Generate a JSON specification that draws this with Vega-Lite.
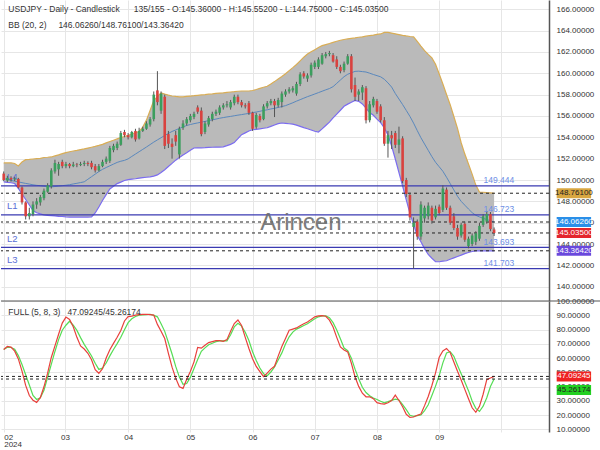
{
"$schema": "https://vega.github.io/schema/vega-lite/v6.json",
"padding": 0,
"spacing": 0,
"bounds": "flush",
"background": "white",
"config": {
  "view": {"stroke": null},
  "font": "Liberation Sans",
  "axis": {"labelFont": "Liberation Sans", "labelColor": "#333", "labelFontSize": 8, "gridColor": "#e6e6e6", "gridWidth": 1, "ticks": false, "title": null, "labelOverlap": false}
},
"datasets": {
  "bars": [
{"i":0,"o":150.6,"h":150.8,"l":149.9,"c":150.0,"u":151.6,"m":150.13,"b":149.82,"k":66.0,"d":66.0},
{"i":1,"o":149.95,"h":150.4,"l":149.8,"c":150.2,"u":151.6,"m":150.05,"b":149.77,"k":68.1,"d":67.5},
{"i":2,"o":150.2,"h":150.35,"l":149.85,"c":150.05,"u":151.6,"m":149.96,"b":149.74,"k":67.7,"d":67.4},
{"i":3,"o":150.05,"h":150.3,"l":149.9,"c":150.15,"u":151.55,"m":149.89,"b":149.67,"k":64.8,"d":66.1},
{"i":4,"o":150.1,"h":150.2,"l":149.2,"c":149.3,"u":151.31,"m":149.82,"b":149.22,"k":59.4,"d":61.7},
{"i":5,"o":149.3,"h":149.4,"l":147.7,"c":147.9,"u":151.69,"m":149.75,"b":148.69,"k":50.8,"d":55.4},
{"i":6,"o":147.9,"h":148.0,"l":146.3,"c":146.6,"u":151.91,"m":149.68,"b":148.17,"k":40.8,"d":48.3},
{"i":7,"o":146.6,"h":147.4,"l":146.3,"c":146.9,"u":151.93,"m":149.62,"b":147.66,"k":33.7,"d":41.1},
{"i":8,"o":146.8,"h":148.0,"l":146.6,"c":147.7,"u":151.97,"m":149.55,"b":147.13,"k":30.4,"d":33.8},
{"i":9,"o":147.7,"h":148.3,"l":147.3,"c":148.0,"u":152.0,"m":149.5,"b":146.93,"k":28.9,"d":30.9},
{"i":10,"o":147.9,"h":148.6,"l":147.6,"c":148.4,"u":152.03,"m":149.47,"b":146.83,"k":32.2,"d":32.1},
{"i":11,"o":148.3,"h":149.2,"l":148.1,"c":149.0,"u":152.11,"m":149.42,"b":146.72,"k":39.8,"d":37.3},
{"i":12,"o":148.9,"h":149.7,"l":148.8,"c":149.5,"u":152.13,"m":149.38,"b":146.69,"k":49.4,"d":46.5},
{"i":13,"o":149.4,"h":151.1,"l":149.2,"c":150.9,"u":152.16,"m":149.35,"b":146.67,"k":60.4,"d":55.5},
{"i":14,"o":150.8,"h":151.9,"l":150.6,"c":151.6,"u":152.26,"m":149.39,"b":146.63,"k":68.5,"d":64.6},
{"i":15,"o":151.0,"h":151.7,"l":150.4,"c":151.5,"u":152.36,"m":149.43,"b":146.6,"k":76.7,"d":72.9},
{"i":16,"o":151.7,"h":151.9,"l":151.1,"c":151.3,"u":152.47,"m":149.47,"b":146.58,"k":84.5,"d":79.5},
{"i":17,"o":151.3,"h":151.7,"l":151.1,"c":151.5,"u":152.57,"m":149.51,"b":146.55,"k":88.7,"d":83.0},
{"i":18,"o":151.5,"h":151.6,"l":151.1,"c":151.3,"u":152.65,"m":149.56,"b":146.53,"k":87.1,"d":85.8},
{"i":19,"o":151.3,"h":151.7,"l":151.2,"c":151.45,"u":152.72,"m":149.63,"b":146.53,"k":81.9,"d":83.0},
{"i":20,"o":151.45,"h":151.6,"l":151.2,"c":151.4,"u":152.78,"m":149.69,"b":146.53,"k":74.5,"d":79.4},
{"i":21,"o":151.4,"h":151.7,"l":151.3,"c":151.5,"u":152.85,"m":149.76,"b":146.53,"k":68.5,"d":74.3},
{"i":22,"o":151.5,"h":151.8,"l":151.3,"c":151.6,"u":152.91,"m":149.83,"b":146.53,"k":66.3,"d":69.6},
{"i":23,"o":151.6,"h":151.75,"l":151.3,"c":151.5,"u":152.99,"m":150.07,"b":146.53,"k":63.3,"d":65.5},
{"i":24,"o":151.6,"h":151.8,"l":151.0,"c":151.2,"u":153.07,"m":150.31,"b":146.54,"k":58.8,"d":61.4},
{"i":25,"o":151.3,"h":151.5,"l":150.7,"c":150.9,"u":153.15,"m":150.55,"b":146.91,"k":51.8,"d":56.3},
{"i":26,"o":150.9,"h":151.5,"l":150.8,"c":151.3,"u":153.24,"m":150.79,"b":147.47,"k":49.3,"d":52.0},
{"i":27,"o":151.3,"h":151.9,"l":151.2,"c":151.7,"u":153.34,"m":151.0,"b":148.08,"k":52.5,"d":53.0},
{"i":28,"o":151.7,"h":152.2,"l":151.5,"c":152.0,"u":153.48,"m":151.17,"b":148.63,"k":60.0,"d":56.5},
{"i":29,"o":151.8,"h":153.2,"l":151.6,"c":153.0,"u":153.61,"m":151.33,"b":149.16,"k":65.8,"d":61.5},
{"i":30,"o":152.8,"h":153.4,"l":152.6,"c":153.2,"u":153.73,"m":151.49,"b":149.41,"k":70.3,"d":66.0},
{"i":31,"o":153.0,"h":153.6,"l":152.8,"c":153.4,"u":153.85,"m":151.65,"b":149.66,"k":74.6,"d":70.1},
{"i":32,"o":153.3,"h":154.6,"l":153.2,"c":154.4,"u":153.97,"m":151.76,"b":149.8,"k":79.3,"d":74.6},
{"i":33,"o":154.5,"h":154.7,"l":154.0,"c":154.2,"u":154.08,"m":151.84,"b":149.95,"k":86.0,"d":79.8},
{"i":34,"o":154.2,"h":154.4,"l":153.8,"c":154.0,"u":154.19,"m":151.98,"b":150.03,"k":89.0,"d":84.8},
{"i":35,"o":154.0,"h":154.6,"l":153.9,"c":154.5,"u":154.31,"m":152.21,"b":150.08,"k":89.4,"d":87.5},
{"i":36,"o":154.6,"h":154.8,"l":153.6,"c":153.8,"u":154.42,"m":152.43,"b":150.12,"k":90.1,"d":89.1},
{"i":37,"o":153.9,"h":154.9,"l":153.8,"c":154.6,"u":154.55,"m":152.65,"b":150.17,"k":90.5,"d":90.1},
{"i":38,"o":154.6,"h":155.0,"l":154.5,"c":154.8,"u":154.96,"m":152.87,"b":150.22,"k":90.6,"d":90.3},
{"i":39,"o":154.8,"h":155.5,"l":154.7,"c":155.3,"u":155.61,"m":153.09,"b":150.26,"k":90.7,"d":90.5},
{"i":40,"o":155.2,"h":155.9,"l":155.0,"c":155.7,"u":156.52,"m":153.32,"b":150.3,"k":90.4,"d":90.7},
{"i":41,"o":155.7,"h":158.3,"l":155.5,"c":158.0,"u":157.44,"m":153.55,"b":150.36,"k":90.1,"d":89.9},
{"i":42,"o":158.4,"h":160.2,"l":157.0,"c":157.3,"u":157.82,"m":153.76,"b":150.48,"k":83.6,"d":88.9},
{"i":43,"o":156.5,"h":158.3,"l":156.2,"c":158.1,"u":158.16,"m":153.96,"b":150.7,"k":78.8,"d":84.0},
{"i":44,"o":157.8,"h":158.0,"l":152.9,"c":153.2,"u":158.05,"m":154.17,"b":150.96,"k":73.7,"d":78.7},
{"i":45,"o":154.3,"h":154.6,"l":153.0,"c":153.4,"u":157.95,"m":154.36,"b":151.26,"k":63.3,"d":70.9},
{"i":46,"o":153.4,"h":153.9,"l":152.0,"c":153.1,"u":157.87,"m":154.55,"b":151.56,"k":53.6,"d":62.8},
{"i":47,"o":154.2,"h":154.6,"l":153.2,"c":153.6,"u":157.83,"m":154.69,"b":151.86,"k":45.9,"d":54.1},
{"i":48,"o":152.4,"h":155.0,"l":152.0,"c":154.8,"u":157.8,"m":154.83,"b":152.12,"k":39.8,"d":46.6},
{"i":49,"o":154.9,"h":155.6,"l":154.7,"c":155.3,"u":157.8,"m":154.97,"b":152.35,"k":38.7,"d":41.6},
{"i":50,"o":155.3,"h":155.9,"l":155.1,"c":155.7,"u":157.84,"m":155.11,"b":152.55,"k":45.1,"d":42.1},
{"i":51,"o":155.6,"h":156.2,"l":155.4,"c":156.0,"u":157.87,"m":155.2,"b":152.78,"k":50.6,"d":46.4},
{"i":52,"o":155.9,"h":156.4,"l":155.7,"c":156.2,"u":157.9,"m":155.28,"b":153.0,"k":57.3,"d":52.7},
{"i":53,"o":156.8,"h":157.0,"l":156.2,"c":156.4,"u":157.94,"m":155.35,"b":153.01,"k":67.4,"d":59.0},
{"i":54,"o":156.5,"h":156.8,"l":154.1,"c":154.3,"u":157.97,"m":155.42,"b":153.02,"k":66.9,"d":64.7},
{"i":55,"o":154.5,"h":155.5,"l":154.3,"c":155.3,"u":158.0,"m":155.49,"b":153.03,"k":69.0,"d":67.1},
{"i":56,"o":155.2,"h":156.0,"l":155.0,"c":155.8,"u":158.04,"m":155.57,"b":153.05,"k":70.8,"d":69.3},
{"i":57,"o":155.7,"h":156.4,"l":155.5,"c":156.2,"u":158.07,"m":155.64,"b":153.07,"k":71.5,"d":70.4},
{"i":58,"o":156.2,"h":156.6,"l":156.0,"c":156.4,"u":158.11,"m":155.71,"b":153.08,"k":72.2,"d":71.5},
{"i":59,"o":156.3,"h":157.0,"l":156.1,"c":156.8,"u":158.15,"m":155.79,"b":153.09,"k":72.2,"d":72.0},
{"i":60,"o":156.8,"h":157.2,"l":156.6,"c":157.0,"u":158.17,"m":155.85,"b":153.11,"k":71.7,"d":72.0},
{"i":61,"o":157.0,"h":157.4,"l":156.8,"c":157.1,"u":158.21,"m":155.91,"b":153.22,"k":72.9,"d":72.0},
{"i":62,"o":156.8,"h":157.5,"l":156.6,"c":157.3,"u":158.25,"m":155.96,"b":153.34,"k":78.8,"d":76.3},
{"i":63,"o":157.2,"h":158.0,"l":157.0,"c":157.8,"u":158.28,"m":156.02,"b":153.51,"k":84.2,"d":81.8},
{"i":64,"o":157.8,"h":158.0,"l":157.1,"c":157.3,"u":158.32,"m":156.08,"b":153.87,"k":86.7,"d":84.3},
{"i":65,"o":157.3,"h":157.5,"l":156.8,"c":157.0,"u":158.34,"m":156.13,"b":154.25,"k":82.8,"d":82.4},
{"i":66,"o":157.0,"h":157.2,"l":156.7,"c":156.9,"u":158.34,"m":156.19,"b":154.42,"k":74.5,"d":78.1},
{"i":67,"o":157.2,"h":157.4,"l":156.1,"c":156.3,"u":158.34,"m":156.24,"b":154.59,"k":66.7,"d":72.3},
{"i":68,"o":156.3,"h":156.4,"l":154.6,"c":154.8,"u":158.39,"m":156.31,"b":154.71,"k":59.5,"d":64.4},
{"i":69,"o":155.0,"h":156.3,"l":154.8,"c":156.1,"u":158.48,"m":156.37,"b":154.75,"k":54.1,"d":58.2},
{"i":70,"o":156.0,"h":156.2,"l":155.4,"c":155.6,"u":158.59,"m":156.44,"b":154.8,"k":50.4,"d":53.0},
{"i":71,"o":155.7,"h":157.1,"l":155.6,"c":156.9,"u":158.69,"m":156.52,"b":154.85,"k":47.0,"d":49.0},
{"i":72,"o":156.9,"h":157.4,"l":156.7,"c":157.2,"u":158.79,"m":156.58,"b":154.9,"k":49.4,"d":47.6},
{"i":73,"o":157.2,"h":157.6,"l":157.0,"c":157.4,"u":159.0,"m":156.66,"b":155.03,"k":52.2,"d":50.2},
{"i":74,"o":157.4,"h":157.6,"l":155.9,"c":157.0,"u":159.22,"m":156.72,"b":155.16,"k":54.2,"d":53.8},
{"i":75,"o":157.0,"h":157.7,"l":156.8,"c":157.5,"u":159.47,"m":156.8,"b":155.28,"k":61.3,"d":58.6},
{"i":76,"o":157.3,"h":158.3,"l":156.8,"c":158.1,"u":159.7,"m":156.88,"b":155.34,"k":68.1,"d":63.6},
{"i":77,"o":158.0,"h":158.5,"l":157.8,"c":158.3,"u":159.96,"m":156.97,"b":155.31,"k":73.7,"d":69.9},
{"i":78,"o":158.3,"h":158.7,"l":158.1,"c":158.5,"u":160.25,"m":157.1,"b":155.27,"k":79.5,"d":74.9},
{"i":79,"o":158.4,"h":158.8,"l":158.2,"c":158.6,"u":160.53,"m":157.24,"b":155.23,"k":80.3,"d":78.2},
{"i":80,"o":158.1,"h":159.2,"l":157.9,"c":159.0,"u":160.83,"m":157.39,"b":155.14,"k":81.1,"d":80.3},
{"i":81,"o":159.0,"h":160.1,"l":158.8,"c":159.9,"u":161.17,"m":157.53,"b":155.03,"k":82.6,"d":81.5},
{"i":82,"o":160.0,"h":160.2,"l":159.5,"c":159.7,"u":161.51,"m":157.67,"b":154.91,"k":84.0,"d":82.8},
{"i":83,"o":159.5,"h":160.0,"l":159.2,"c":159.8,"u":161.8,"m":157.81,"b":154.8,"k":85.2,"d":84.1},
{"i":84,"o":159.8,"h":161.0,"l":159.6,"c":160.8,"u":162.01,"m":157.93,"b":154.69,"k":87.1,"d":85.8},
{"i":85,"o":160.6,"h":161.2,"l":160.4,"c":161.0,"u":162.21,"m":158.06,"b":154.57,"k":88.9,"d":87.5},
{"i":86,"o":160.6,"h":161.5,"l":160.4,"c":161.3,"u":162.42,"m":158.19,"b":154.5,"k":89.6,"d":88.9},
{"i":87,"o":160.9,"h":161.9,"l":160.8,"c":161.7,"u":162.59,"m":158.32,"b":154.79,"k":89.8,"d":89.6},
{"i":88,"o":161.6,"h":162.0,"l":161.4,"c":161.8,"u":162.69,"m":158.45,"b":155.11,"k":89.3,"d":89.5},
{"i":89,"o":161.8,"h":162.1,"l":161.6,"c":161.9,"u":162.79,"m":158.57,"b":155.43,"k":86.6,"d":88.3},
{"i":90,"o":161.7,"h":161.9,"l":161.0,"c":161.1,"u":162.9,"m":158.75,"b":155.82,"k":81.7,"d":84.8},
{"i":91,"o":161.3,"h":161.6,"l":160.4,"c":160.6,"u":163.0,"m":159.06,"b":156.18,"k":74.5,"d":79.6},
{"i":92,"o":160.6,"h":160.8,"l":160.0,"c":160.2,"u":163.1,"m":159.37,"b":156.54,"k":67.8,"d":73.5},
{"i":93,"o":160.3,"h":161.1,"l":160.1,"c":160.9,"u":163.17,"m":159.68,"b":156.91,"k":65.6,"d":67.0},
{"i":94,"o":160.9,"h":161.8,"l":160.8,"c":161.6,"u":163.22,"m":159.91,"b":157.11,"k":64.3,"d":65.1},
{"i":95,"o":161.6,"h":161.8,"l":158.2,"c":158.5,"u":163.27,"m":160.05,"b":157.28,"k":56.3,"d":59.9},
{"i":96,"o":158.9,"h":159.6,"l":157.4,"c":157.8,"u":163.32,"m":160.18,"b":157.46,"k":46.8,"d":52.2},
{"i":97,"o":158.0,"h":158.5,"l":157.4,"c":158.3,"u":163.38,"m":160.2,"b":157.37,"k":40.1,"d":45.4},
{"i":98,"o":158.2,"h":158.9,"l":157.5,"c":158.7,"u":163.42,"m":160.16,"b":157.13,"k":35.3,"d":39.5},
{"i":99,"o":158.6,"h":158.8,"l":155.3,"c":155.6,"u":163.48,"m":160.12,"b":156.74,"k":32.8,"d":35.8},
{"i":100,"o":155.6,"h":157.4,"l":155.4,"c":157.1,"u":163.54,"m":160.01,"b":156.32,"k":32.8,"d":33.5},
{"i":101,"o":157.0,"h":157.8,"l":156.8,"c":157.6,"u":163.58,"m":159.89,"b":156.07,"k":31.5,"d":32.0},
{"i":102,"o":157.4,"h":157.6,"l":156.2,"c":156.4,"u":163.64,"m":159.78,"b":155.71,"k":28.7,"d":30.9},
{"i":103,"o":156.9,"h":157.1,"l":155.4,"c":155.6,"u":163.69,"m":159.67,"b":155.38,"k":28.0,"d":29.7},
{"i":104,"o":155.6,"h":155.9,"l":153.2,"c":153.4,"u":163.83,"m":159.44,"b":154.88,"k":27.7,"d":28.6},
{"i":105,"o":153.4,"h":154.6,"l":152.1,"c":154.2,"u":163.84,"m":159.1,"b":154.22,"k":28.6,"d":29.4},
{"i":106,"o":154.2,"h":154.6,"l":152.9,"c":153.9,"u":163.77,"m":158.71,"b":153.19,"k":30.1,"d":30.3},
{"i":107,"o":154.4,"h":154.6,"l":153.0,"c":153.3,"u":163.7,"m":158.11,"b":151.97,"k":34.0,"d":31.1},
{"i":108,"o":153.3,"h":155.0,"l":152.5,"c":153.8,"u":163.63,"m":157.59,"b":150.7,"k":30.2,"d":30.6},
{"i":109,"o":153.9,"h":154.1,"l":149.7,"c":149.9,"u":163.56,"m":157.07,"b":149.44,"k":25.8,"d":27.3},
{"i":110,"o":150.0,"h":150.2,"l":148.4,"c":148.7,"u":163.5,"m":156.52,"b":148.14,"k":20.5,"d":23.8},
{"i":111,"o":148.6,"h":148.8,"l":146.2,"c":146.5,"u":163.45,"m":155.96,"b":146.88,"k":18.3,"d":19.8},
{"i":112,"o":145.6,"h":146.5,"l":141.7,"c":146.0,"u":163.41,"m":155.33,"b":145.83,"k":18.6,"d":19.1},
{"i":113,"o":146.1,"h":146.3,"l":144.4,"c":144.7,"u":162.99,"m":154.63,"b":144.8,"k":19.8,"d":19.6},
{"i":114,"o":144.7,"h":148.0,"l":144.4,"c":147.7,"u":162.55,"m":153.96,"b":144.22,"k":20.7,"d":20.0},
{"i":115,"o":146.4,"h":147.6,"l":146.0,"c":147.4,"u":162.13,"m":153.37,"b":143.57,"k":26.6,"d":23.1},
{"i":116,"o":146.6,"h":147.9,"l":146.3,"c":147.6,"u":161.78,"m":152.78,"b":143.02,"k":33.0,"d":27.2},
{"i":117,"o":147.4,"h":147.6,"l":145.9,"c":146.2,"u":161.45,"m":152.19,"b":142.67,"k":40.7,"d":33.7},
{"i":118,"o":146.5,"h":147.6,"l":146.3,"c":147.3,"u":160.85,"m":151.66,"b":142.34,"k":49.6,"d":40.3},
{"i":119,"o":147.5,"h":147.7,"l":146.7,"c":146.9,"u":159.94,"m":151.24,"b":142.34,"k":60.5,"d":47.7},
{"i":120,"o":147.2,"h":149.5,"l":147.0,"c":149.2,"u":159.0,"m":150.82,"b":142.39,"k":65.0,"d":56.6},
{"i":121,"o":149.1,"h":149.3,"l":147.2,"c":147.4,"u":158.01,"m":150.26,"b":142.43,"k":66.6,"d":63.5},
{"i":122,"o":147.4,"h":147.6,"l":145.8,"c":146.0,"u":157.06,"m":149.67,"b":142.57,"k":63.9,"d":64.4},
{"i":123,"o":146.6,"h":146.9,"l":145.3,"c":145.5,"u":155.95,"m":149.07,"b":142.7,"k":57.2,"d":61.2},
{"i":124,"o":145.5,"h":145.8,"l":144.4,"c":144.7,"u":154.84,"m":148.47,"b":142.83,"k":50.7,"d":54.9},
{"i":125,"o":144.8,"h":146.0,"l":144.6,"c":145.8,"u":153.49,"m":148.0,"b":142.96,"k":44.6,"d":48.9},
{"i":126,"o":145.9,"h":146.1,"l":144.2,"c":144.4,"u":152.43,"m":147.64,"b":143.1,"k":38.0,"d":43.1},
{"i":127,"o":143.8,"h":144.7,"l":143.6,"c":144.5,"u":151.5,"m":147.28,"b":143.21,"k":31.4,"d":37.1},
{"i":128,"o":144.0,"h":145.0,"l":143.8,"c":144.8,"u":150.55,"m":146.94,"b":143.3,"k":25.1,"d":29.9},
{"i":129,"o":144.2,"h":145.2,"l":143.9,"c":145.0,"u":149.52,"m":146.69,"b":143.35,"k":21.9,"d":24.7},
{"i":130,"o":144.5,"h":146.0,"l":144.3,"c":145.7,"u":148.87,"m":146.54,"b":143.36,"k":26.1,"d":22.5},
{"i":131,"o":145.8,"h":146.8,"l":145.6,"c":146.6,"u":148.85,"m":146.41,"b":143.36,"k":34.6,"d":26.2},
{"i":132,"o":146.1,"h":147.1,"l":145.9,"c":146.8,"u":148.82,"m":146.29,"b":143.36,"k":44.8,"d":32.1},
{"i":133,"o":146.8,"h":147.0,"l":145.2,"c":145.4,"u":148.8,"m":146.18,"b":143.36,"k":46.0,"d":40.0},
{"i":134,"o":145.36,"h":145.552,"l":144.75,"c":145.035,"u":148.761,"m":146.0626,"b":143.3642,"k":47.09245,"d":45.26174}
  ],
  "levels": [
    {"v": 149.444, "n": "L4", "s": "149.444"},
    {"v": 146.723, "n": "L1", "s": "146.723"},
    {"v": 143.693, "n": "L2", "s": "143.693"},
    {"v": 141.703, "n": "L3", "s": "141.703"}
  ],
  "tagsTop": [
    {"v": 148.761, "t": "148.76100", "bg": "#d8a640", "fg": "#222222"},
    {"v": 146.0626, "t": "146.06260", "bg": "#2a8fe8", "fg": "#ffffff"},
    {"v": 145.035, "t": "145.03500", "bg": "#e4262c", "fg": "#ffffff"},
    {"v": 143.3642, "t": "143.36420", "bg": "#6a48dc", "fg": "#ffffff"}
  ],
  "tagK": [{"v": 47.09245, "t": "47.09245"}],
  "tagD": [{"v": 45.26174, "t": "45.26174"}]
},
"vconcat": [
  {
    "width": 548,
    "height": 301,
    "layer": [
      {
        "data": {"name": "bars"},
        "mark": {"type": "area", "color": "#bababa", "opacity": 1},
        "encoding": {
          "x": {"field": "i", "type": "quantitative", "scale": {"domain": [-0.74, 149], "nice": false, "zero": false, "padding": 0},
                "axis": {"values": [0, 16.75, 34, 51, 68, 85, 102, 119, 136], "tickCount": 100, "labels": false, "ticks": false, "domain": false, "grid": true}},
          "y": {"field": "b", "type": "quantitative", "scale": {"domain": [138.66, 166.87], "nice": false, "zero": false, "padding": 0},
                "axis": {"orient": "right", "values": [140,142,144,146,148,150,152,154,156,158,160,162,164,166], "tickCount": 100, "format": ".5f", "grid": true, "domain": true, "domainColor": "#555", "domainWidth": 1.5, "labelPadding": 7}},
          "y2": {"field": "u"}
        }
      },
      {"data": {"name": "bars"}, "mark": {"type": "line", "color": "#d9ad55", "strokeWidth": 1.2},
       "encoding": {"x": {"field": "i", "type": "quantitative"}, "y": {"field": "u", "type": "quantitative"}}},
      {"data": {"name": "bars"}, "mark": {"type": "line", "color": "#7b6cf0", "strokeWidth": 1.2},
       "encoding": {"x": {"field": "i", "type": "quantitative"}, "y": {"field": "b", "type": "quantitative"}}},
      {"data": {"name": "bars"}, "mark": {"type": "line", "color": "#5a88bd", "strokeWidth": 1},
       "encoding": {"x": {"field": "i", "type": "quantitative"}, "y": {"field": "m", "type": "quantitative"}}},
      {"data": {"name": "levels"}, "mark": {"type": "rule", "color": "#3a3ab2", "strokeWidth": 1.2},
       "encoding": {"y": {"field": "v", "type": "quantitative"}}},
      {"data": {"name": "tagsTop"}, "mark": {"type": "rule", "color": "#222", "strokeWidth": 1, "strokeDash": [3, 3]},
       "encoding": {"y": {"field": "v", "type": "quantitative"}}},
      {"data": {"name": "levels"}, "mark": {"type": "text", "align": "left", "dy": -8.5, "fontSize": 9.5, "color": "#5a6fd6"},
       "encoding": {"x": {"datum": 0.9}, "y": {"field": "v", "type": "quantitative"}, "text": {"field": "n"}}},
      {"data": {"name": "bars"}, "mark": {"type": "rule", "color": "#555", "strokeWidth": 1},
       "encoding": {"x": {"field": "i", "type": "quantitative"}, "y": {"field": "l", "type": "quantitative"}, "y2": {"field": "h"}}},
      {"data": {"name": "bars"}, "mark": {"type": "bar", "size": 2.6},
       "encoding": {"x": {"field": "i", "type": "quantitative"}, "y": {"field": "o", "type": "quantitative"}, "y2": {"field": "c"},
         "color": {"condition": {"test": "datum.c >= datum.o", "value": "#3c9e5e"}, "value": "#d9423f"}}},
      {"data": {"name": "levels"}, "mark": {"type": "text", "align": "center", "dy": -5.5, "fontSize": 8.5, "color": "#6d8ee6"},
       "encoding": {"x": {"datum": 135.3}, "y": {"field": "v", "type": "quantitative"}, "text": {"field": "s"}}},
      {"data": {"name": "tagsTop"}, "mark": {"type": "bar", "orient": "horizontal", "size": 10},
       "encoding": {"x": {"datum": 151.1}, "x2": {"datum": 160.5}, "y": {"field": "v", "type": "quantitative"}, "color": {"field": "bg", "type": "nominal", "scale": null}}},
      {"data": {"name": "tagsTop"}, "mark": {"type": "text", "align": "center", "fontSize": 8},
       "encoding": {"x": {"datum": 155.8}, "y": {"field": "v", "type": "quantitative"}, "text": {"field": "t"}, "color": {"field": "fg", "type": "nominal", "scale": null}}},
      {"data": {"values": [{}]}, "mark": {"type": "text", "align": "left", "fontSize": 8.5, "color": "#333"},
       "encoding": {"x": {"datum": 1.26}, "y": {"datum": 166.0}, "text": {"value": "USDJPY - Daily - Candlestick\u00a0\u00a0\u00a0\u00a0\u00a0\u00a0135/155 - O:145.36000 - H:145.55200 - L:144.75000 - C:145.03500"}}},
      {"data": {"values": [{}]}, "mark": {"type": "text", "align": "left", "fontSize": 8.5, "color": "#333"},
       "encoding": {"x": {"datum": 1.26}, "y": {"datum": 164.53}, "text": {"value": "BB (20, 2)\u00a0\u00a0\u00a0\u00a0\u00a0146.06260/148.76100/143.36420"}}},
      {"data": {"values": [{}]}, "mark": {"type": "text", "align": "center", "fontSize": 24, "color": "#6e6e6e", "opacity": 0.9},
       "encoding": {"x": {"datum": 81.2}, "y": {"datum": 146.0}, "text": {"value": "Arincen"}}}
    ]
  },
  {
    "width": 548,
    "height": 131,
    "layer": [
      {
        "data": {"name": "bars"},
        "mark": {"type": "line", "color": "#55dd55", "strokeWidth": 1.2},
        "encoding": {
          "x": {"field": "i", "type": "quantitative", "scale": {"domain": [-0.74, 149], "nice": false, "zero": false, "padding": 0},
                "axis": {"values": [0, 16.75, 34, 51, 68, 85, 102, 119, 136], "tickCount": 100, "grid": true, "domain": false, "ticks": false, "labelPadding": 1, "labelFlush": 5, "labelLineHeight": 7.5, "labelFontSize": 8,
                         "labelExpr": "datum.value < 1 ? ['\u00a002', '2024'] : datum.value < 20 ? '03' : datum.value < 40 ? '04' : datum.value < 60 ? '05' : datum.value < 75 ? '06' : datum.value < 90 ? '07' : datum.value < 110 ? '08' : datum.value < 125 ? '09' : ''"}},
          "y": {"field": "d", "type": "quantitative", "scale": {"domain": [8.1, 100], "nice": false, "zero": false, "padding": 0},
                "axis": {"orient": "right", "values": [10,20,30,40,50,60,70,80,90,100], "tickCount": 100, "format": ".5f", "grid": true, "domain": true, "domainColor": "#555", "domainWidth": 1.5, "labelPadding": 7}}
        }
      },
      {"data": {"name": "bars"}, "mark": {"type": "line", "color": "#e8413c", "strokeWidth": 1.2},
       "encoding": {"x": {"field": "i", "type": "quantitative"}, "y": {"field": "k", "type": "quantitative"}}},
      {"data": {"name": "tagK"}, "mark": {"type": "rule", "color": "#222", "strokeWidth": 1, "strokeDash": [3, 3]},
       "encoding": {"y": {"field": "v", "type": "quantitative"}}},
      {"data": {"name": "tagD"}, "mark": {"type": "rule", "color": "#222", "strokeWidth": 1, "strokeDash": [3, 3]},
       "encoding": {"y": {"field": "v", "type": "quantitative"}}},
      {"data": {"values": [{}]}, "mark": {"type": "rule", "color": "#555", "strokeWidth": 1.2},
       "encoding": {"x": {"datum": -0.74}, "x2": {"datum": 164.5}, "y": {"datum": 100}}},
      {"data": {"name": "tagK"}, "mark": {"type": "bar", "orient": "horizontal", "size": 10, "color": "#ee2222"},
       "encoding": {"x": {"datum": 151.1}, "x2": {"datum": 160.5}, "y": {"field": "v", "type": "quantitative"}}},
      {"data": {"name": "tagK"}, "mark": {"type": "text", "align": "center", "fontSize": 8, "color": "#ffffff"},
       "encoding": {"x": {"datum": 155.8}, "y": {"field": "v", "type": "quantitative"}, "text": {"field": "t"}}},
      {"data": {"name": "tagD"}, "mark": {"type": "bar", "orient": "horizontal", "size": 10, "color": "#22d022", "yOffset": 11},
       "encoding": {"x": {"datum": 151.1}, "x2": {"datum": 160.5}, "y": {"field": "v", "type": "quantitative"}}},
      {"data": {"name": "tagD"}, "mark": {"type": "text", "align": "center", "fontSize": 8, "color": "#222222", "dy": 11},
       "encoding": {"x": {"datum": 155.8}, "y": {"field": "v", "type": "quantitative"}, "text": {"field": "t"}}},
      {"data": {"values": [{}]}, "mark": {"type": "text", "align": "left", "fontSize": 8.5, "color": "#333"},
       "encoding": {"x": {"datum": 1.26}, "y": {"datum": 92.3}, "text": {"value": "FULL (5, 8, 3)\u00a0\u00a0\u00a047.09245/45.26174"}}}
    ]
  }
]
}
